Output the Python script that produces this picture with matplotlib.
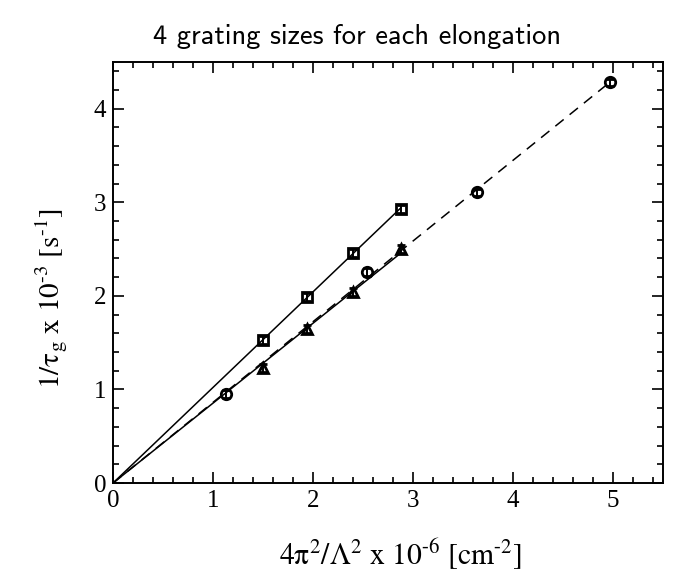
import numpy as np
import matplotlib
matplotlib.use("Agg")
import matplotlib.pyplot as plt
from matplotlib.ticker import MultipleLocator

# grating wavevector 4pi^2/Lambda^2 (x1e-6 cm^-2) vs decay rate 1/tau_g (x1e-3 s^-1)
sq_x = [1.50, 1.94, 2.40, 2.88]
sq_y = [1.53, 1.99, 2.46, 2.93]
tri_x = [1.50, 1.94, 2.40, 2.88]
tri_y = [1.23, 1.645, 2.04, 2.50]
circ_x = [1.13, 2.54, 3.64, 4.97]
circ_y = [0.952, 2.253, 3.105, 4.28]
err = 0.04

plt.rcParams["mathtext.fontset"] = "stix"
plt.rcParams["font.family"] = "Liberation Serif"

fig = plt.figure(figsize=(6.87, 5.73), dpi=100)
ax = fig.add_axes([0.1645, 0.157, 0.8005, 0.735])


def slope0(x, y):
    # least squares fit through the origin
    x, y = np.asarray(x), np.asarray(y)
    return (x * y).sum() / (x * x).sum()


for xs, ys, ls in [(sq_x, sq_y, "-"), (tri_x, tri_y, "-"), (circ_x, circ_y, (0, (7, 5)))]:
    k = slope0(xs, ys)
    xx = np.array([0, max(xs)])
    ax.plot(xx, k * xx, color="black", lw=1.1, ls=ls)

for xs, ys, m in [(sq_x, sq_y, "s"), (tri_x, tri_y, "^"), (circ_x, circ_y, "o")]:
    ax.errorbar(xs, ys, yerr=err, fmt=m, ms=7.5, mfc="none", mec="black", mew=2.0,
                ecolor="black", elinewidth=1.4, capsize=3, color="black")

ax.set_xlim(0, 5.5)
ax.set_ylim(0, 4.5)
ax.xaxis.set_major_locator(MultipleLocator(1))
ax.xaxis.set_minor_locator(MultipleLocator(0.2))
ax.yaxis.set_major_locator(MultipleLocator(1))
ax.yaxis.set_minor_locator(MultipleLocator(0.2))
ax.tick_params(which="both", direction="in", top=True, right=True, width=1.2,
               labelsize=18, pad=5)
ax.tick_params(which="major", length=8)
ax.tick_params(which="minor", length=4.5)
for s in ax.spines.values():
    s.set_linewidth(1.4)

ax.set_xlabel(r"$\mathrm{4\pi^2/\Lambda^2\ x\ 10^{\text{-}6}\ [cm^{\text{-}2}]}$", fontsize=21.3)
ax.set_ylabel(r"$\mathrm{1/\tau_g\ x\ 10^{\text{-}3}\ [s^{\text{-}1}]}$", fontsize=21)
ax.xaxis.set_label_coords(0.522, -0.126)
ax.yaxis.set_label_coords(-0.078, 0.438)
fig.text(0.52, 0.937, "4 grating sizes for each elongation", ha="center", va="center",
         family="cmss10", fontsize=20.5)

fig.savefig("out.png", dpi=100)
